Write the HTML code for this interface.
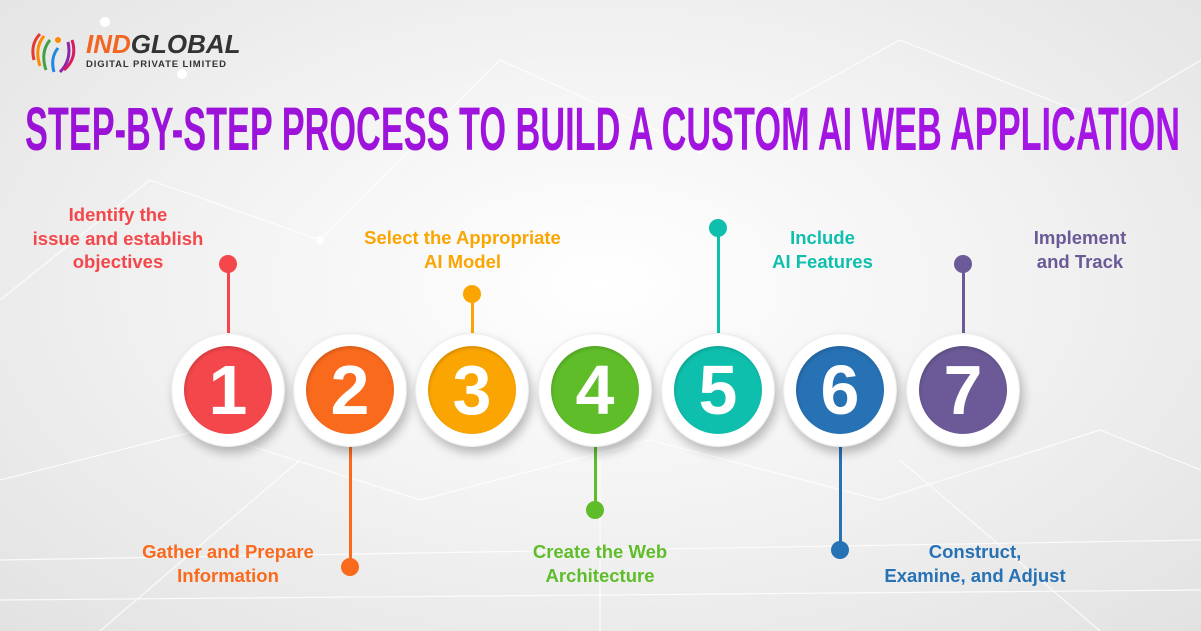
<!DOCTYPE html>
<html><head><meta charset="utf-8"><style>
html,body{margin:0;padding:0}
body{width:1201px;height:631px;overflow:hidden;position:relative;font-family:"Liberation Sans",sans-serif;
background:radial-gradient(ellipse at 50% 45%,#ffffff 0%,#f3f3f3 45%,#e2e2e2 100%);}
.c{position:absolute;width:114px;height:114px;border-radius:50%;background:#fff;
box-shadow:3px 6px 10px rgba(0,0,0,0.25),inset 0 0 2px rgba(0,0,0,0.2);}
.c div{position:absolute;left:13px;top:13px;width:88px;height:88px;border-radius:50%;color:#fff;font-weight:bold;
font-size:70px;line-height:88px;text-align:center;box-shadow:inset 1px 2px 3px rgba(0,0,0,0.15)}
.l{position:absolute;width:3px}
.d{position:absolute;width:18px;height:18px;border-radius:50%}
.t{position:absolute;font-size:18.5px;font-weight:bold;line-height:23.5px;text-align:center;white-space:nowrap}
</style></head><body>
<svg style="position:absolute;left:0;top:0" width="1201" height="631">
<defs><linearGradient id="g" x1="0" x2="1"><stop offset="0" stop-color="#9a12d6"/><stop offset="1" stop-color="#a616e6"/></linearGradient></defs>
<g stroke="#ffffff" stroke-width="1.2" opacity="0.8" fill="none">
<path d="M0 300 L150 180 L320 240 L500 60 L700 150 L900 40 L1100 120 L1201 60"/>
<path d="M0 480 L200 430 L420 500 L650 440 L880 500 L1100 430 L1201 470"/>
<path d="M0 560 L1201 540 M0 600 L1201 590 M300 460 L100 631 M900 460 L1100 631 M600 460 L600 631"/>
</g>
<g fill="#ffffff"><circle cx="105" cy="22" r="5"/><circle cx="182" cy="74" r="5"/><circle cx="320" cy="240" r="4"/><circle cx="700" cy="150" r="4"/></g>
<g transform="translate(28,30)">
<path d="M6 30 Q2 14 12 4" stroke="#e53935" stroke-width="3" fill="none"/>
<path d="M12 36 Q6 18 16 6" stroke="#fb8c00" stroke-width="3" fill="none"/>
<path d="M18 40 Q12 22 22 10" stroke="#43a047" stroke-width="3" fill="none"/>
<path d="M26 42 Q22 28 30 18" stroke="#1e88e5" stroke-width="3" fill="none"/>
<path d="M32 42 Q44 30 40 12" stroke="#8e24aa" stroke-width="3" fill="none"/>
<path d="M36 40 Q50 28 44 10" stroke="#d81b60" stroke-width="3" fill="none"/>
<circle cx="30" cy="10" r="3" fill="#fb8c00"/>
</g>
<text x="25" y="150" font-family="Liberation Sans, sans-serif" font-weight="bold" font-size="61" fill="url(#g)" textLength="1155" lengthAdjust="spacingAndGlyphs">STEP-BY-STEP PROCESS TO BUILD A CUSTOM AI WEB APPLICATION</text>
</svg>
<div style="position:absolute;left:86px;top:30px;font-weight:bold;font-style:italic;font-size:26px;line-height:28px"><span style="color:#f26522">IND</span><span style="color:#333">GLOBAL</span></div>
<div style="position:absolute;left:86px;top:59px;font-weight:bold;font-size:9.5px;color:#333;letter-spacing:0.9px">DIGITAL PRIVATE LIMITED</div>

<div class="l" style="left:227px;top:264px;height:72px;background:#f4474b"></div><div class="d" style="left:219px;top:255px;background:#f4474b"></div>
<div class="l" style="left:349px;top:446px;height:121px;background:#fa6a1d"></div><div class="d" style="left:341px;top:558px;background:#fa6a1d"></div>
<div class="l" style="left:471px;top:294px;height:42px;background:#fba502"></div><div class="d" style="left:463px;top:285px;background:#fba502"></div>
<div class="l" style="left:594px;top:446px;height:64px;background:#5fbd2a"></div><div class="d" style="left:586px;top:501px;background:#5fbd2a"></div>
<div class="l" style="left:717px;top:228px;height:108px;background:#0fbfad"></div><div class="d" style="left:709px;top:219px;background:#0fbfad"></div>
<div class="l" style="left:839px;top:446px;height:104px;background:#2771b5"></div><div class="d" style="left:831px;top:541px;background:#2771b5"></div>
<div class="l" style="left:962px;top:264px;height:72px;background:#6b5a97"></div><div class="d" style="left:954px;top:255px;background:#6b5a97"></div>

<div class="c" style="left:171px;top:333px"><div style="background:#f4474b">1</div></div>
<div class="c" style="left:293px;top:333px"><div style="background:#fa6a1d">2</div></div>
<div class="c" style="left:415px;top:333px"><div style="background:#fba502">3</div></div>
<div class="c" style="left:538px;top:333px"><div style="background:#5fbd2a">4</div></div>
<div class="c" style="left:661px;top:333px"><div style="background:#0fbfad">5</div></div>
<div class="c" style="left:783px;top:333px"><div style="background:#2771b5">6</div></div>
<div class="c" style="left:906px;top:333px"><div style="background:#6b5a97">7</div></div>

<div class="t" style="left:18px;top:203px;width:200px;color:#f4474b">Identify the<br>issue and establish<br>objectives</div>
<div class="t" style="left:113px;top:540px;width:230px;color:#fa6a1d">Gather and Prepare<br>Information</div>
<div class="t" style="left:340px;top:226px;width:245px;color:#fba502">Select the Appropriate<br>AI Model</div>
<div class="t" style="left:505px;top:540px;width:190px;color:#5fbd2a">Create the Web<br>Architecture</div>
<div class="t" style="left:750px;top:226px;width:145px;color:#0fbfad">Include<br>AI Features</div>
<div class="t" style="left:860px;top:540px;width:230px;color:#2771b5">Construct,<br>Examine, and Adjust</div>
<div class="t" style="left:1010px;top:226px;width:140px;color:#6b5a97">Implement<br>and Track</div>
</body></html>
